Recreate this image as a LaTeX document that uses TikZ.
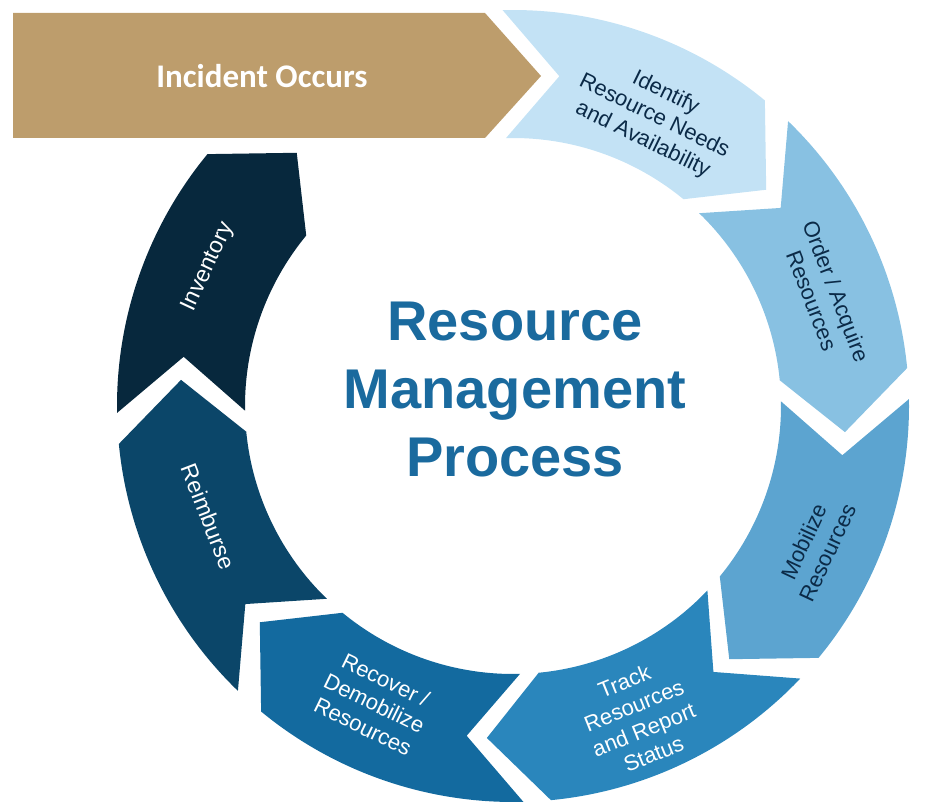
\documentclass[tikz,border=0pt]{standalone}
\usepackage{fontspec}
\setmainfont{Liberation Sans}
\newfontfamily\calibri{Carlito}
\definecolor{incidentgold}{HTML}{BD9D6C}
\definecolor{stepa}{HTML}{C3E2F5}
\definecolor{stepb}{HTML}{88C1E2}
\definecolor{stepc}{HTML}{5CA4D0}
\definecolor{stepd}{HTML}{2A86BC}
\definecolor{stepe}{HTML}{136A9F}
\definecolor{stepf}{HTML}{0B4669}
\definecolor{stepg}{HTML}{07283D}
\definecolor{titleblue}{HTML}{1A6A9E}
\definecolor{darklabel}{HTML}{0B2A47}
\tikzset{
  steplabel/.style={align=center,inner sep=0pt,font=\fontsize{22}{26}\selectfont},
  biglabel/.style={align=center,inner sep=0pt,font=\fontsize{23}{27}\selectfont}
}
\begin{document}
\begin{tikzpicture}[x=1pt,y=1pt]
\def\ro{396} \def\ri{268} \def\rm{333} \def\tip{10} \def\notch{9.5}
\useasboundingbox (0,0) rectangle (930,812);
\coordinate (c) at (513,406);

\fill[incidentgold] (13,799) -- (485,799) -- (541,736) -- (485,674) -- (13,674) -- cycle;
\node[text=white,font=\calibri\bfseries\fontsize{33}{38}\selectfont] (incident) at (262,736) {Incident Occurs};

\begin{scope}[shift={(c)}]
\fill[stepa] (91.5:\ro) arc[start angle=91.5,end angle=50.5,radius=\ro] -- ({50.5-\tip}:\rm) -- (50.5:\ri) arc[start angle=50.5,end angle=91.5,radius=\ri] -- ({91.5-\notch}:\rm) -- cycle;
\fill[stepb] (46:\ro) arc[start angle=46,end angle=5.5,radius=\ro] -- ({5.5-\tip}:\rm) -- (5.5:\ri) arc[start angle=5.5,end angle=46,radius=\ri] -- ({46-\notch}:\rm) -- cycle;
\fill[stepc] (1:\ro) arc[start angle=1,end angle=-39.5,radius=\ro] -- ({-39.5-\tip}:\rm) -- (-39.5:\ri) arc[start angle=-39.5,end angle=1,radius=\ri] -- ({1-\notch}:\rm) -- cycle;
\fill[stepd] (-43.5:\ro) arc[start angle=-43.5,end angle=-84.5,radius=\ro] -- ({-84.5-\tip}:\rm) -- (-84.5:\ri) arc[start angle=-84.5,end angle=-43.5,radius=\ri] -- ({-43.5-\notch}:\rm) -- cycle;
\fill[stepe] (-88.5:\ro) arc[start angle=-88.5,end angle=-129.5,radius=\ro] -- ({-129.5-\tip}:\rm) -- (-129.5:\ri) arc[start angle=-129.5,end angle=-88.5,radius=\ri] -- ({-88.5-\notch}:\rm) -- cycle;
\fill[stepf] (-134:\ro) arc[start angle=-134,end angle=-174.5,radius=\ro] -- ({-174.5-\tip}:\rm) -- (-174.5:\ri) arc[start angle=-174.5,end angle=-134,radius=\ri] -- ({-134-\notch}:\rm) -- cycle;
\fill[stepg] (181:\ro) arc[start angle=181,end angle=140.5,radius=\ro] -- ({140.5-\tip}:\rm) -- (140.5:\ri) arc[start angle=140.5,end angle=181,radius=\ri] -- ({181-\notch}:\rm) -- cycle;

\node[steplabel,text=darklabel,rotate=-26] (identify) at (64:322) {Identify\\Resource Needs\\and Availability};
\node[steplabel,text=darklabel,rotate=-69] (order) at (19.5:330) {Order / Acquire\\Resources};
\node[steplabel,text=darklabel,rotate=65] (mobilize) at (-25:334) {Mobilize\\Resources};
\node[steplabel,text=white,rotate=22] (track) at (-68:336) {Track\\Resources\\and Report\\Status};
\node[steplabel,text=white,rotate=-26] (recover) at (245:328) {Recover /\\Demobilize\\Resources};
\node[biglabel,text=white,rotate=-69] (reimburse) at (200:324) {Reimburse};
\node[biglabel,text=white,rotate=65] (inventory) at (155.5:335) {Inventory};
\end{scope}

\node[align=center,text=titleblue,font=\bfseries\fontsize{56}{68}\selectfont] (title) at (515,422) {Resource\\Management\\Process};
\end{tikzpicture}
\end{document}
